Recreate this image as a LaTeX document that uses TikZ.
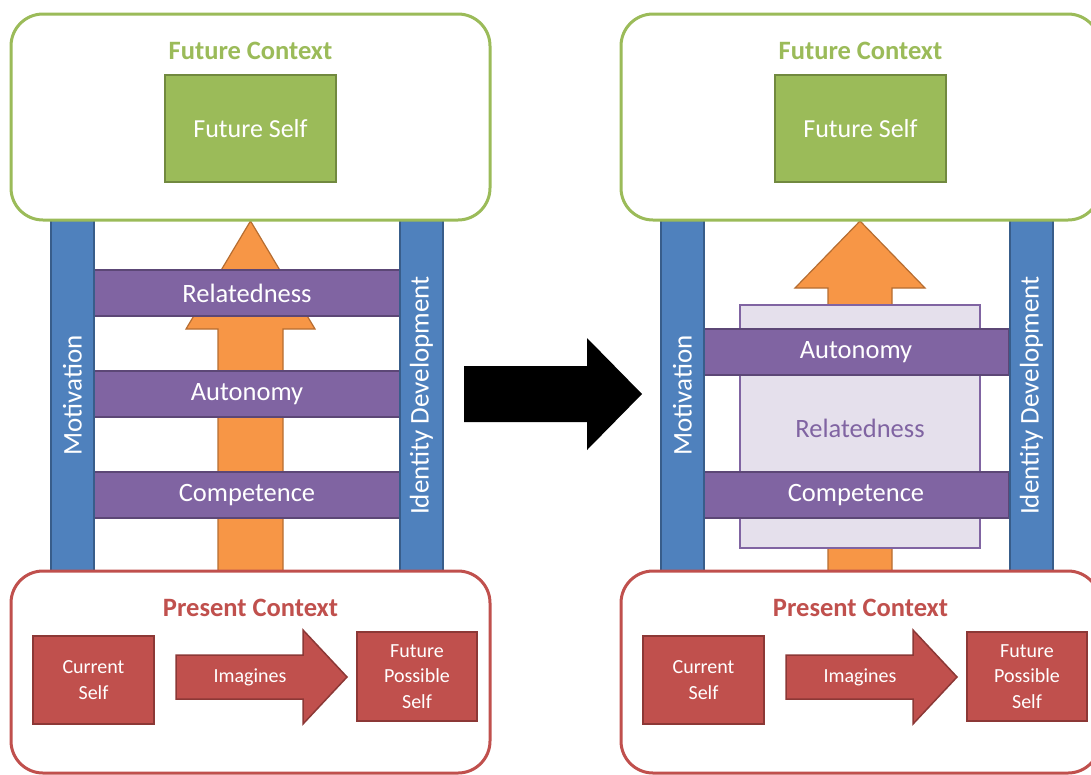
\documentclass[tikz,border=0pt]{standalone}
\usepackage{fontspec}
\setmainfont{Carlito}
\usepackage{tikz}
\usetikzlibrary{positioning}

\definecolor{ctxgreen}{HTML}{9BBB59}
\definecolor{darkgreen}{HTML}{71893F}
\definecolor{ctxred}{HTML}{C0504D}
\definecolor{darkred}{HTML}{8C3836}
\definecolor{pillarblue}{HTML}{4F81BD}
\definecolor{darkblue}{HTML}{385D8A}
\definecolor{needpurple}{HTML}{8064A2}
\definecolor{darkpurple}{HTML}{5C4776}
\definecolor{lightpurple}{HTML}{E5E0EC}
\definecolor{groworange}{HTML}{F79646}
\definecolor{darkorange}{HTML}{B66D31}

\tikzset{
	ctxbox/.style={draw, line width=3pt, rounded corners=32pt, fill=white},
	ctxtitle/.style={font=\fontsize{26.5}{30}\selectfont\bfseries},
	selfbox/.style={draw, line width=1.5pt, text=white, align=center, font=\fontsize{20}{25.5}\selectfont},
	pillar/.style={draw=darkblue, fill=pillarblue, line width=1.5pt, text=white, rotate=90, font=\fontsize{27}{30}\selectfont},
	needbar/.style={draw=darkpurple, fill=needpurple, line width=1.5pt, text=white, minimum width=306pt, minimum height=46pt, font=\fontsize{26.5}{30}\selectfont},
	growarrow/.style={draw=darkorange, fill=groworange, line width=1.2pt, line join=miter},
}

\begin{document}
\begin{tikzpicture}[x=1pt, y=-1pt]
	\useasboundingbox (0,0) rectangle (1091,774);

	%%%%%%%%%%%%%%%%%%%%%%%%%%%%%%%%%%%%%%%%%%%%%%%%%%%%
	%Left panel

	%Growth arrow
	\draw[growarrow] (218,571) -- (218,329) -- (186,329) -- (250.5,221) -- (315,329) -- (283,329) -- (283,571) -- cycle;

	%Needs
	\node[needbar] (RelL) at (247,293) {Relatedness};
	\node[needbar] (AutL) at (247,394) {Autonomy};
	\node[needbar] (ComL) at (247,495) {Competence};

	%%%%%%%%%%%%%%%%%%%%%%%%%%%%%%%%%%%%%%%%%%%%%%%%%%%%
	%Right panel

	%Growth arrow
	\draw[growarrow] (828,571) -- (828,288) -- (795,288) -- (860,221) -- (925,288) -- (892,288) -- (892,571) -- cycle;

	%Relatedness field
	\node[draw=needpurple, fill=lightpurple, line width=1.5pt, minimum width=240pt, minimum height=243pt] (RelField) at (860,426.5) {};
	\node[text=needpurple, font=\fontsize{26.5}{30}\selectfont] (RelR) at (860,428) {Relatedness};

	%Needs
	\node[needbar] (AutR) at (856,352) {Autonomy};
	\node[needbar] (ComR) at (856,495) {Competence};

	%%%%%%%%%%%%%%%%%%%%%%%%%%%%%%%%%%%%%%%%%%%%%%%%%%%%
	%Both panels
	\foreach \dx/\p in {0/L, 610/R}{
		\begin{scope}[xshift=\dx pt]
			%Pillars
			\node[pillar, minimum width=351pt, minimum height=43pt] (Mot\p) at (72.5,395.5) {Motivation};
			\node[pillar, minimum width=351pt, minimum height=43pt] (Ide\p) at (421.5,395.5) {Identity Development};

			%Future
			\node[ctxbox, draw=ctxgreen, minimum width=479pt, minimum height=206pt] (FutCtx\p) at (250.5,117) {};
			\node[ctxtitle, text=ctxgreen] (FutTitle\p) at (250.5,51) {Future Context};
			\node[selfbox, draw=darkgreen, fill=ctxgreen, minimum width=171pt, minimum height=107pt, font=\fontsize{26}{30}\selectfont] (FutSelf\p) at (250.5,128.5) {Future Self};

			%Present
			\node[ctxbox, draw=ctxred, minimum width=479pt, minimum height=202pt] (PresCtx\p) at (250.5,672) {};
			\node[ctxtitle, text=ctxred] (PresTitle\p) at (250.5,608) {Present Context};
			\node[selfbox, draw=darkred, fill=ctxred, minimum width=121pt, minimum height=88pt] (CurSelf\p) at (93.5,680) {Current\\Self};
			\node[selfbox, draw=darkred, fill=ctxred, minimum width=120pt, minimum height=89pt] (PosSelf\p) at (417,676.5) {Future\\Possible\\Self};

			%Imagines
			\draw[draw=darkred, fill=ctxred, line width=1.5pt] (176,655) -- (303,655) -- (303,630) -- (347,677) -- (303,724) -- (303,699) -- (176,699) -- cycle;
			\node[text=white, font=\fontsize{20}{25}\selectfont] (Ima\p) at (250,677) {Imagines};
		\end{scope}
	}

	%Transition
	\fill[black] (464,366) -- (587,366) -- (587,338) -- (642,394) -- (587,450) -- (587,422) -- (464,422) -- cycle;

\end{tikzpicture}
\end{document}
